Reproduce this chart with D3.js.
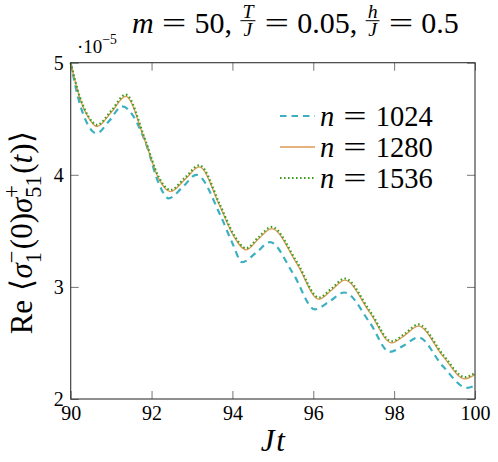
<!DOCTYPE html>
<html lang="en">
<head>
<meta charset="UTF-8">
<title>Correlator vs Jt</title>
<script src="https://d3js.org/d3.v7.min.js"></script>
<style>
  body { margin: 0; background: #fff; }
</style>
</head>
<body>
<div id="chart"></div>
<script>
// values
const xTicks = [90, 92, 94, 96, 98, 100];
const yTicks = [2, 3, 4, 5];
const seriesNames = ["n = 1024", "n = 1280", "n = 1536"];

const jt1024 = [90.00, 90.19, 90.42, 90.64, 90.95, 91.27, 91.86, 92.17, 92.42, 92.77, 93.11, 93.70, 94.00, 94.24, 94.60, 94.93, 95.50, 96.04, 96.40, 96.77, 97.40, 97.89, 98.25, 98.60, 99.21, 99.80, 100.0];
const val1024 = [5.00, 4.68, 4.45, 4.37, 4.48, 4.61, 4.28, 3.93, 3.79, 3.89, 4.00, 3.64, 3.39, 3.22, 3.31, 3.40, 3.12, 2.80, 2.87, 2.95, 2.68, 2.42, 2.48, 2.55, 2.29, 2.10, 2.12];

const jt1280 = [90.00, 90.23, 90.44, 90.65, 91.01, 91.36, 91.84, 92.17, 92.47, 92.83, 93.18, 93.69, 94.02, 94.34, 94.65, 94.97, 95.59, 96.14, 96.45, 96.78, 97.40, 97.94, 98.27, 98.60, 99.21, 99.75, 100.0];
const val1280 = [5.00, 4.68, 4.51, 4.43, 4.56, 4.70, 4.30, 3.97, 3.85, 3.96, 4.07, 3.72, 3.46, 3.33, 3.43, 3.52, 3.21, 2.89, 2.97, 3.06, 2.77, 2.50, 2.57, 2.65, 2.38, 2.18, 2.22];

const jt1536 = [90.00, 90.23, 90.44, 90.65, 91.01, 91.36, 91.84, 92.17, 92.47, 92.83, 93.18, 93.69, 94.02, 94.34, 94.65, 94.97, 95.59, 96.14, 96.45, 96.78, 97.40, 97.94, 98.27, 98.60, 99.21, 99.75, 100.0];
const val1536 = [5.00, 4.69, 4.52, 4.445, 4.575, 4.715, 4.315, 3.985, 3.865, 3.975, 4.085, 3.735, 3.475, 3.345, 3.445, 3.535, 3.225, 2.905, 2.985, 3.075, 2.785, 2.515, 2.585, 2.665, 2.395, 2.195, 2.235];

const svgW = 498, svgH = 462;
const plot = {left: 70.7, right: 475, top: 62.7, bottom: 399};
const serif = "'Liberation Serif'";

const svg = d3.select("#chart").append("svg")
    .attr("width", svgW)
    .attr("height", svgH);

const x = d3.scaleLinear().domain([90, 100]).range([plot.left, plot.right]);
const y = d3.scaleLinear().domain([2, 5]).range([plot.bottom, plot.top]);

const styles = [
  {color: "#3bb0c1", width: 2.2, dash: "6.5,5"},
  {color: "#dc9a52", width: 1.3, dash: null},
  {color: "#3f9e22", width: 2.2, dash: "1.6,2.4"}
];

// axes, ticks pointing inward on all four sides
const tickLen = 8;
const fmt = d3.format("d");
function tidy(g) {
  g.select(".domain").remove();
  g.attr("font-family", null).attr("font-size", null);
  g.selectAll("text").attr("font-size", 20).attr("fill", "#000")
      .style("font-family", serif);
}
svg.append("g")
    .attr("transform", `translate(0,${plot.bottom})`)
    .call(d3.axisBottom(x).tickValues(xTicks).tickFormat(fmt).tickSizeInner(-tickLen).tickSizeOuter(0).tickPadding(7))
    .call(tidy);
svg.append("g")
    .attr("transform", `translate(0,${plot.top})`)
    .call(d3.axisTop(x).tickValues(xTicks).tickSizeInner(-tickLen).tickSizeOuter(0).tickFormat(""))
    .call(tidy);
svg.append("g")
    .attr("transform", `translate(${plot.left},0)`)
    .call(d3.axisLeft(y).tickValues(yTicks).tickFormat(fmt).tickSizeInner(-tickLen).tickSizeOuter(0).tickPadding(7))
    .call(tidy);
svg.append("g")
    .attr("transform", `translate(${plot.right},0)`)
    .call(d3.axisRight(y).tickValues(yTicks).tickSizeInner(-tickLen).tickSizeOuter(0).tickFormat(""))
    .call(tidy);
svg.selectAll(".tick line").attr("stroke", "#777").attr("stroke-width", 1);

// lines
const data = [
  jt1024.map((d, i) => [d, val1024[i]]),
  jt1280.map((d, i) => [d, val1280[i]]),
  jt1536.map((d, i) => [d, val1536[i]])
];
const line = d3.line()
    .x(d => x(d[0]))
    .y(d => y(d[1]))
    .curve(d3.curveMonotoneX);

svg.append("g").selectAll("path")
    .data(data)
  .join("path")
    .attr("fill", "none")
    .attr("stroke", (d, i) => styles[i].color)
    .attr("stroke-width", (d, i) => styles[i].width)
    .attr("stroke-dasharray", (d, i) => styles[i].dash)
    .attr("d", line);

// frame
svg.append("rect")
    .attr("x", plot.left).attr("y", plot.top)
    .attr("width", plot.right - plot.left).attr("height", plot.bottom - plot.top)
    .attr("fill", "none").attr("stroke", "#333").attr("stroke-width", 1.1);

// helper: lay out pieces of math-like text left to right
function addText(g, txt, fs, italic) {
  return g.append("text")
      .attr("font-size", fs)
      .attr("font-style", italic ? "italic" : null)
      .style("font-family", serif)
      .text(txt);
}
function pieces(g, list, size) {
  let cx = 0, lastStart = 0, lastW = 0;
  list.forEach(p => {
    if (p.gap) { cx += p.gap * size; return; }
    if (p.frac) {
      const fs = size * 0.66;
      const num = addText(g, p.frac[0], fs, true).attr("text-anchor", "middle").attr("y", -size * 0.49);
      const den = addText(g, p.frac[1], fs, true).attr("text-anchor", "middle").attr("y", size * 0.09);
      const w = Math.max(num.node().getComputedTextLength(), den.node().getComputedTextLength()) + 6;
      num.attr("x", cx + w / 2);
      den.attr("x", cx + w / 2);
      g.append("line").attr("x1", cx + 1).attr("x2", cx + w - 1)
          .attr("y1", -size * 0.41).attr("y2", -size * 0.41)
          .attr("stroke", "#000").attr("stroke-width", 1);
      cx += w;
      return;
    }
    const fs = size * (p.scale || 1);
    const start = p.stack ? lastStart : cx;
    const sx = p.sx || 1;
    const t = addText(g, p.t, fs, p.it)
        .attr("transform", `translate(${start},${p.dy ? p.dy * size : 0}) scale(${sx},1)`);
    const w = t.node().getComputedTextLength() * sx;
    if (p.stack) {
      cx = start + Math.max(w, lastW);
    } else {
      lastStart = start; lastW = w; cx = start + w;
    }
  });
  return cx;
}

// wide equals sign, like the TeX one
const eq = {t: "=", sx: 1.45};

// title
const title = svg.append("g").attr("transform", "translate(132,33)");
pieces(title, [
  {t: "m", it: true}, {gap: 0.27}, eq, {gap: 0.27}, {t: "50,"}, {gap: 0.25},
  {frac: ["T", "J"]}, {gap: 0.27}, eq, {gap: 0.27}, {t: "0.05,"}, {gap: 0.25},
  {frac: ["h", "J"]}, {gap: 0.27}, eq, {gap: 0.27}, {t: "0.5"}
], 30);

// exponent label
const expo = svg.append("g").attr("transform", "translate(77,53)");
pieces(expo, [
  {t: "·10"}, {t: "−5", scale: 0.72, dy: -0.5}
], 19);

// y label
const ylab = svg.append("g");
const ylabW = pieces(ylab, [
  {t: "Re"}, {gap: 0.3}, {t: "⟨"}, {t: "σ", it: true},
  {t: "1", scale: 0.72, dy: 0.28}, {t: "−", scale: 0.72, dy: -0.42, stack: true}, {gap: 0.05},
  {t: "(0)"}, {t: "σ", it: true},
  {t: "51", scale: 0.72, dy: 0.28}, {t: "+", scale: 0.72, dy: -0.42, stack: true}, {gap: 0.05},
  {t: "("}, {t: "t", it: true}, {gap: 0.04}, {t: ")"}, {t: "⟩"}
], 31);
ylab.attr("transform", `translate(32,${(plot.top + plot.bottom) / 2 + 2 + ylabW / 2}) rotate(-90)`);

// x label
const xlab = svg.append("g");
const xlabW = pieces(xlab, [{t: "J", it: true}, {gap: 0.06}, {t: "t", it: true}], 31);
xlab.attr("transform", `translate(${(plot.left + plot.right) / 2 - xlabW / 2},451)`);

// legend
const legend = svg.append("g").attr("transform", "translate(280,116)");
seriesNames.forEach((name, i) => {
  const row = legend.append("g").attr("transform", `translate(0,${i * 31})`);
  row.append("line")
      .attr("x1", 0).attr("x2", 35).attr("y1", 0).attr("y2", 0)
      .attr("stroke", styles[i].color)
      .attr("stroke-width", styles[i].width)
      .attr("stroke-dasharray", styles[i].dash);
  const txt = row.append("g").attr("transform", "translate(40,10)");
  const parts = name.split(" = ");
  pieces(txt, [{t: parts[0], it: true}, {gap: 0.32}, eq, {gap: 0.32}, {t: parts[1]}], 28.5);
});
</script>
</body>
</html>
